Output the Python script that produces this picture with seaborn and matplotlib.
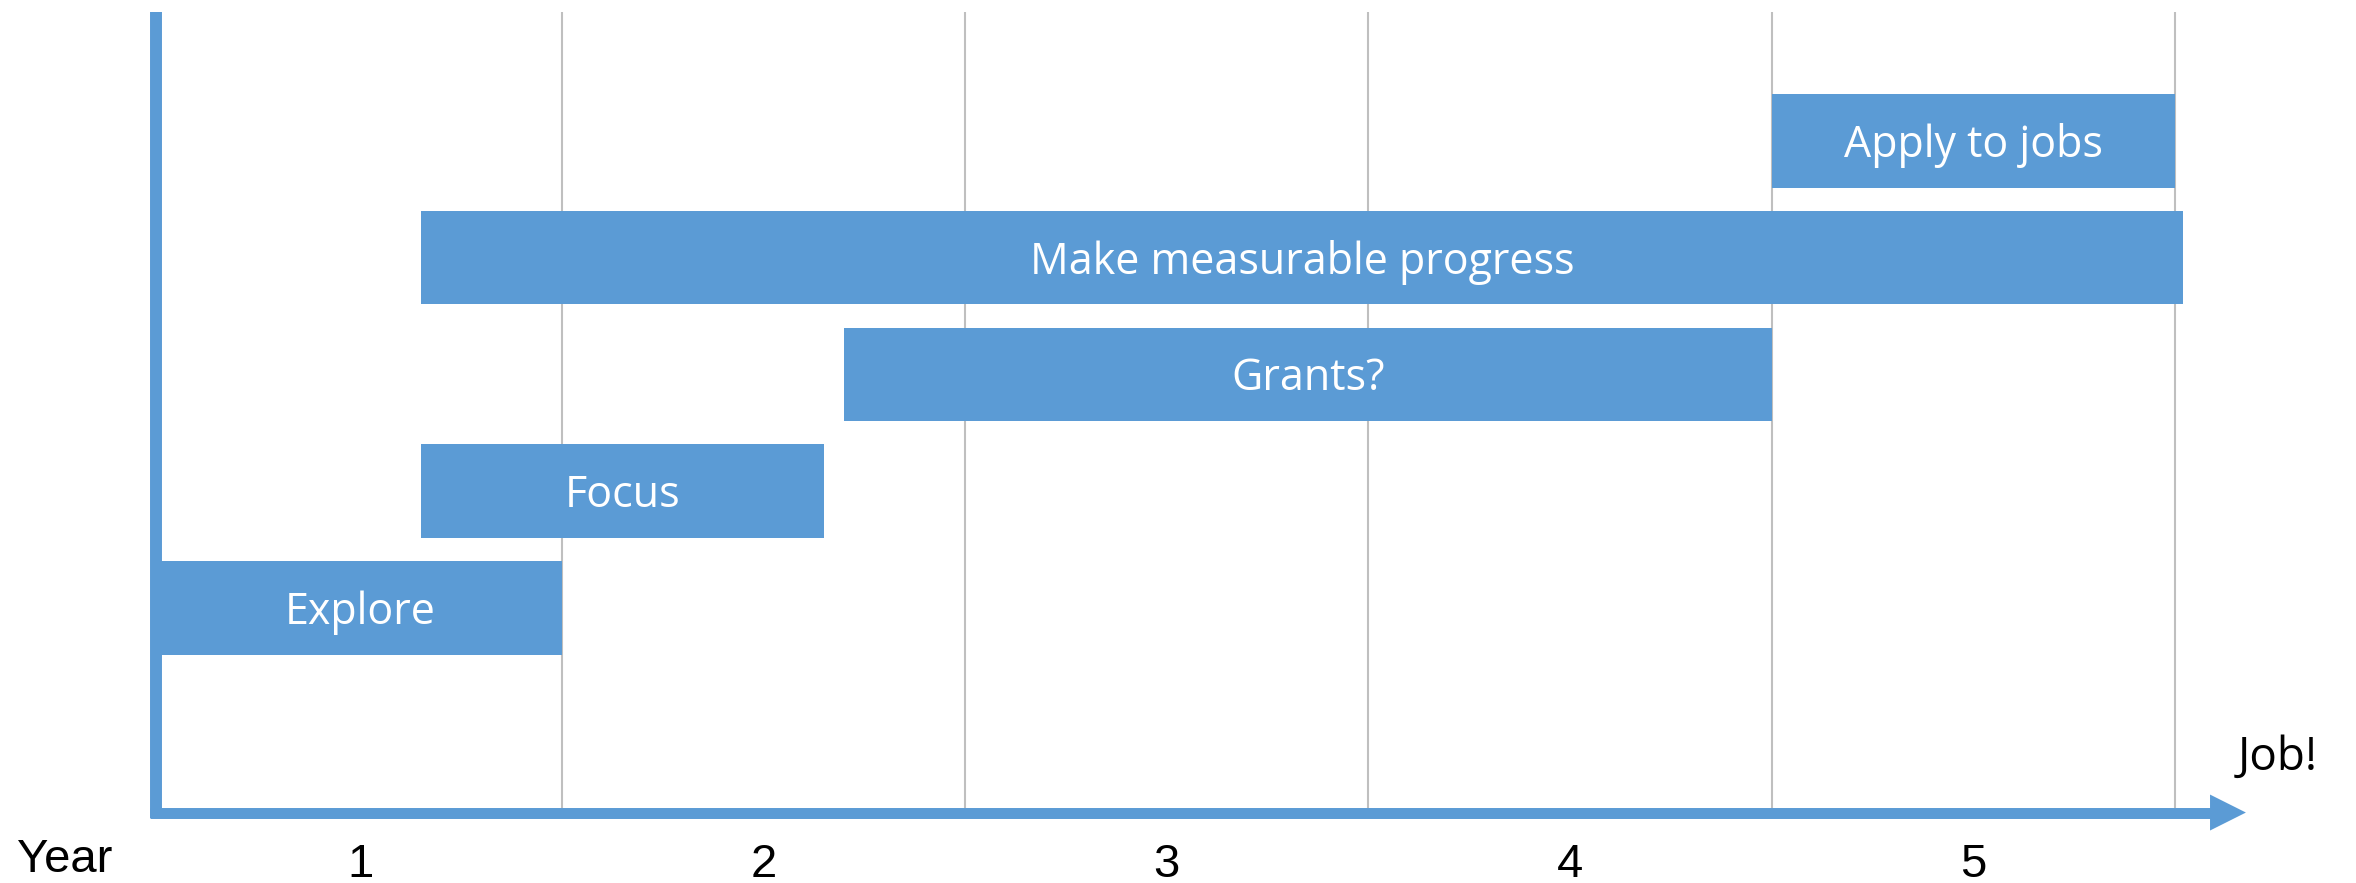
import matplotlib
matplotlib.use('Agg')
import matplotlib.pyplot as plt
import seaborn as sns
import pandas as pd

# tasks from top to bottom, start/end in years
tasks = ['Apply to jobs', 'Make measurable progress', 'Grants?', 'Focus', 'Explore']
starts = [4.0, 0.65, 1.7, 0.65, 0.0]
ends = [5.0, 5.02, 4.0, 1.65, 1.0]
years = [1, 2, 3, 4, 5]
year_labels = ['1', '2', '3', '4', '5']

df = pd.DataFrame({'task': tasks, 'start': starts, 'end': ends})
df['length'] = df['end'] - df['start']

BLUE = '#5B9BD5'
GRID = '#BFBFBF'

sns.set_theme(style='white')
plt.rcParams['font.family'] = ['Open Sans', 'DejaVu Sans']

fig = plt.figure(figsize=(23.56, 8.83), dpi=100)
ax = fig.add_axes([0, 0, 1, 1])

# gantt bars: seaborn draws the lengths, then shift each bar to its start
sns.barplot(data=df, x='length', y='task', order=tasks, color=BLUE,
            saturation=1, width=0.8, errorbar=None, linewidth=0, ax=ax)
for patch, s in zip(ax.patches, df['start']):
    patch.set_x(s)

ax.set_xlim(-0.3937, 5.449)
ax.set_ylim(6.356, -1.207)
ax.set_axis_off()

# year grid lines behind the bars
ax.vlines(years, ymin=-1.104, ymax=5.71, color=GRID, lw=1.5, zorder=0.5)

# hand-drawn axes with arrow
ax.plot([-0.0068, -0.0068], [5.802, -1.104], color=BLUE, lw=8.6,
        solid_capstyle='butt', zorder=3)
ax.plot([-0.0217, 5.092], [5.7525, 5.7525], color=BLUE, lw=7.9,
        solid_capstyle='butt', zorder=3)
ax.fill([5.087, 5.176, 5.087], [5.7525 - 0.154, 5.7525, 5.7525 + 0.154],
        color=BLUE, lw=0, zorder=3)

# labels inside bars
for i, row in df.iterrows():
    ax.text((row['start'] + row['end']) / 2, i + 0.137, row['task'],
            ha='center', va='baseline', color='white', fontsize=31)

# year numbers
for y, lab in zip(years, year_labels):
    ax.text(y - 0.5, 6.305, lab, ha='center', va='baseline', color='black',
            fontsize=34, family=['Liberation Sans', 'DejaVu Sans'])
ax.text(-0.3515, 6.262, 'Year', ha='left', va='baseline', color='black',
        fontsize=34, family=['Liberation Sans', 'DejaVu Sans'])
ax.text(5.156, 5.389, 'Job!', ha='left', va='baseline', color='black',
        fontsize=33)

fig.savefig('out.png', dpi=100)
